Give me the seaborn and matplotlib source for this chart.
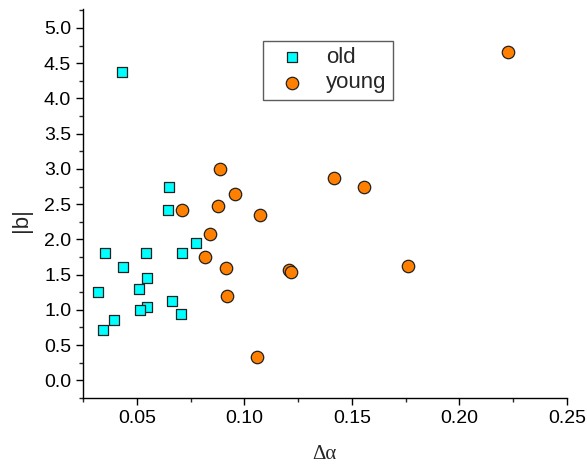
import matplotlib
matplotlib.use("Agg")
import matplotlib.pyplot as plt
from matplotlib.ticker import MultipleLocator
import seaborn as sns
import pandas as pd

old_x = [0.043, 0.0652, 0.0643, 0.0773, 0.0352, 0.0544, 0.071, 0.0434, 0.0549,
         0.0511, 0.032, 0.0662, 0.0549, 0.0516, 0.0705, 0.0394, 0.0344]
old_y = [4.37, 2.75, 2.42, 1.95, 1.80, 1.81, 1.80, 1.61, 1.45,
         1.30, 1.26, 1.12, 1.04, 1.00, 0.945, 0.855, 0.71]
young_x = [0.0887, 0.0956, 0.0877, 0.0708, 0.1073, 0.084, 0.0815, 0.0915, 0.0918,
           0.1059, 0.1208, 0.1216, 0.176, 0.2225, 0.1415, 0.1555]
young_y = [3.00, 2.645, 2.48, 2.41, 2.35, 2.07, 1.75, 1.60, 1.195,
           0.33, 1.57, 1.535, 1.62, 4.655, 2.875, 2.74]
groups = ["old", "young"]
x_ticks = [0.05, 0.10, 0.15, 0.20, 0.25]
x_ticklabels = ["0.05", "0.10", "0.15", "0.20", "0.25"]
y_ticks = [0.0, 0.5, 1.0, 1.5, 2.0, 2.5, 3.0, 3.5, 4.0, 4.5, 5.0]

df = pd.DataFrame({
    "x": old_x + young_x,
    "y": old_y + young_y,
    "group": [groups[0]] * len(old_x) + [groups[1]] * len(young_x),
})

sns.set_style("ticks")
plt.rcParams["font.family"] = ["Liberation Sans", "DejaVu Sans"]

fig = plt.figure(figsize=(5.87, 4.68), dpi=100)
ax = fig.add_axes([0.1414, 0.1496, 0.966 - 0.1414, 0.981 - 0.1496])

palette = {"old": "#00FFFF", "young": "#FF8000"}
markers = {"old": "s", "young": "o"}
for g in groups:
    sub = df[df["group"] == g]
    sns.scatterplot(data=sub, x="x", y="y", color=palette[g], marker=markers[g],
                    s=62 if g == "old" else 80, edgecolor="#222222", linewidth=0.9,
                    ax=ax, label=g, zorder=3)

ax.set_xlim(0.025, 0.25)
ax.set_ylim(-0.25, 5.27)
ax.xaxis.set_minor_locator(MultipleLocator(0.025))
ax.yaxis.set_minor_locator(MultipleLocator(0.25))
ax.set_xticks(x_ticks)
ax.set_xticklabels(x_ticklabels)
ax.set_yticks(y_ticks)
ax.set_yticklabels([f"{v:.1f}" for v in y_ticks])

for s in ["top", "right"]:
    ax.spines[s].set_visible(False)
for s in ["left", "bottom"]:
    ax.spines[s].set_color("black")
    ax.spines[s].set_linewidth(1.0)

ax.tick_params(axis="both", which="major", direction="out", length=5, width=1,
               labelsize=14, colors="black", pad=3.5)
ax.tick_params(axis="both", which="minor", direction="out", length=3, width=1)

ax.set_xlabel("Δα", family=["Liberation Serif", "DejaVu Serif"], fontsize=15)
ax.xaxis.set_label_coords(0.499, -0.12)
ax.set_ylabel("|b|", fontsize=16)
ax.yaxis.label.set_va("center")
ax.yaxis.set_label_coords(-0.128, 0.458)

leg = ax.legend(loc="upper left", bbox_to_anchor=(0.372, 0.918), fontsize=16,
                frameon=True, fancybox=False, edgecolor="#333333",
                handletextpad=0.55, borderpad=0.28, labelspacing=0.2,
                handlelength=2.0, borderaxespad=0)
leg.get_frame().set_linewidth(1.0)

fig.savefig("out.png", dpi=100)
